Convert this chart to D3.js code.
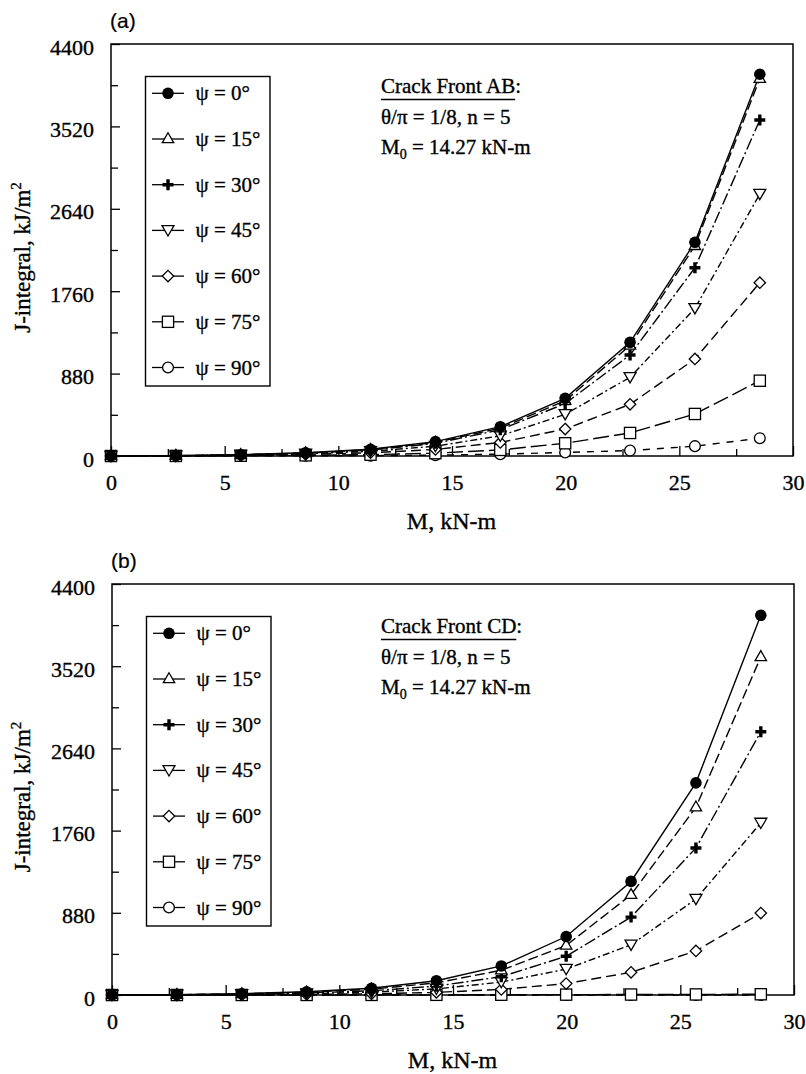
<!DOCTYPE html>
<html>
<head>
<meta charset="utf-8">
<script src="https://cdn.jsdelivr.net/npm/d3@7"></script>
<style>
  html, body { margin: 0; padding: 0; background: #fff; }
  svg { display: block; }
  text { fill: #000; }
  .serif { font-family: "Liberation Serif", "Times New Roman", Times, serif; stroke: #000; stroke-width: 0.35px; }
  .sans { font-family: "Liberation Sans", Arial, Helvetica, sans-serif; stroke: #000; stroke-width: 0.2px; }
</style>
</head>
<body>
<svg id="chart" width="806" height="1074"></svg>
<script>
// Applied bending moment M (kN-m): M/M0 = 0, 0.2, ..., 2.0 with M0 = 14.27 kN-m
const momentM = [0, 2.854, 5.708, 8.562, 11.416, 14.27, 17.124, 19.978, 22.832, 25.686, 28.54];

// Angular positions along the crack front
const psiAngles = [0, 15, 30, 45, 60, 75, 90];

// Axis ticks
const xTickValues = [0, 5, 10, 15, 20, 25, 30];
const xMinorTicks = [2.5, 7.5, 12.5, 17.5, 22.5, 27.5];
const yTickValues = [0, 880, 1760, 2640, 3520, 4400];
const yMinorTicks = [440, 1320, 2200, 3080, 3960];

// J-integral (kJ/m^2), crack front AB
const abPsi0  = [0, 4, 14, 35, 72, 153, 313, 616, 1214, 2282, 4077];
const abPsi15 = [0, 4, 13, 33, 68, 145, 298, 590, 1180, 2245, 4030];
const abPsi30 = [0, 3, 12, 30, 62, 135, 280, 560, 1079, 2011, 3589];
const abPsi45 = [0, 2.5, 10, 24, 50, 105, 215, 445, 840, 1577, 2798];
const abPsi60 = [0, 2, 7, 17, 35, 70, 145, 288, 552, 1036, 1851];
const abPsi75 = [0, 1, 3, 7, 14, 30, 65, 136, 246, 449, 804];
const abPsi90 = [0, 0.3, 1, 2, 4, 9, 20, 38, 58, 105, 190];

// J-integral (kJ/m^2), crack front CD
const cdPsi0  = [0, 4, 14, 35, 72, 153, 311, 626, 1216, 2271, 4065];
const cdPsi15 = [0, 3.5, 12, 30, 62, 130, 265, 530, 1073, 2010, 3620];
const cdPsi30 = [0, 2.5, 9, 22, 45, 95, 196, 415, 834, 1574, 2819];
const cdPsi45 = [0, 1.5, 6, 14, 30, 65, 138, 277, 537, 1027, 1842];
const cdPsi60 = [0, 0.6, 2.5, 6, 13, 28, 60, 122, 243, 472, 877];
const cdPsi75 = [0, 0, 0.3, 0.6, 1, 2, 3, 4, 5, 6, 8];
const cdPsi90 = [0, 0, 0, 0, 0, 0, 0, 0, 0, 0, 0];

// Per-series styling (same order as psiAngles)
const markerTypes = ["disc", "triUp", "plus", "triDown", "diamond", "square", "ring"];
const dashPatterns = [null, "10,4", "12,3,2,3", "7,3,2,3", "10,5", "16,5", "7,7"];

const panels = [
  { tag: "(a)", front: "AB", series: [abPsi0, abPsi15, abPsi30, abPsi45, abPsi60, abPsi75, abPsi90],
    left: 111, right: 793, top: 44, bottom: 456 },
  { tag: "(b)", front: "CD", series: [cdPsi0, cdPsi15, cdPsi30, cdPsi45, cdPsi60, cdPsi75, cdPsi90],
    left: 112, right: 794, top: 584, bottom: 995 }
];

const svg = d3.select("#chart");

function drawMarker(g, type, cx, cy) {
  const m = g.append("g").attr("transform", `translate(${cx},${cy})`);
  const open = { fill: "#fff", stroke: "#000", "stroke-width": 1.3 };
  const apply = (sel, attrs) => { Object.entries(attrs).forEach(([k, v]) => sel.attr(k, v)); return sel; };
  switch (type) {
    case "disc":
      m.append("circle").attr("r", 5.8).attr("fill", "#000");
      break;
    case "triUp":
      apply(m.append("path").attr("d", "M0,-6.2L5.7,3.7L-5.7,3.7Z"), open);
      break;
    case "triDown":
      apply(m.append("path").attr("d", "M0,5.6L6,-4.7L-6,-4.7Z"), open);
      break;
    case "diamond":
      apply(m.append("path").attr("d", "M0,-5.7L5.7,0L0,5.7L-5.7,0Z"), open);
      break;
    case "square":
      apply(m.append("rect").attr("x", -5.6).attr("y", -5.6).attr("width", 11.2).attr("height", 11.2), open);
      break;
    case "ring":
      apply(m.append("circle").attr("r", 5.4), open);
      break;
    case "plus":
      m.append("path").attr("d", "M-5.5,0H5.5M0,-5.5V5.5")
        .attr("stroke", "#000").attr("stroke-width", 3.4).attr("fill", "none");
      break;
  }
}

panels.forEach(p => {
  const x = d3.scaleLinear().domain([0, 30]).range([p.left, p.right]);
  const y = d3.scaleLinear().domain([0, 4400]).range([p.bottom, p.top]);
  const g = svg.append("g");

  // Minor ticks
  g.append("g").attr("transform", `translate(0,${p.bottom})`)
    .call(d3.axisBottom(x).tickValues(xMinorTicks).tickSize(-7).tickFormat(""))
    .call(a => a.select(".domain").remove());
  g.append("g").attr("transform", `translate(${p.left},0)`)
    .call(d3.axisLeft(y).tickValues(yMinorTicks).tickSize(-7).tickFormat(""))
    .call(a => a.select(".domain").remove());

  // Major ticks with labels
  const xa = g.append("g").attr("transform", `translate(0,${p.bottom})`)
    .call(d3.axisBottom(x).tickValues(xTickValues).tickSize(-10).tickPadding(18).tickFormat(d3.format("d")));
  xa.select(".domain").remove();
  xa.selectAll("text").attr("class", "serif").attr("font-size", 22);

  const ya = g.append("g").attr("transform", `translate(${p.left},0)`)
    .call(d3.axisLeft(y).tickValues(yTickValues).tickSize(-9).tickPadding(17).tickFormat(d3.format("d")));
  ya.select(".domain").remove();
  ya.selectAll("text").attr("class", "serif").attr("font-size", 22).attr("dy", "0.46em");

  g.selectAll(".tick line").attr("stroke", "#000").attr("stroke-width", 1.3);

  // Plot frame
  g.append("rect")
    .attr("x", p.left).attr("y", p.top)
    .attr("width", p.right - p.left).attr("height", p.bottom - p.top)
    .attr("fill", "none").attr("stroke", "#000").attr("stroke-width", 1.5);

  // Axis titles
  g.append("text").attr("class", "serif")
    .attr("x", (p.left + p.right) / 2 - 0.5).attr("y", p.bottom + 73)
    .attr("text-anchor", "middle").attr("font-size", 24)
    .text("M, kN-m");

  const yt = g.append("text").attr("class", "serif")
    .attr("transform", `translate(30,${(p.top + p.bottom) / 2 + 7.5}) rotate(-90)`)
    .attr("text-anchor", "middle").attr("font-size", 23);
  yt.append("tspan").text("J-integral, kJ/m");
  yt.append("tspan").attr("font-size", 15).attr("dy", -9).text("2");

  // Panel tag
  g.append("text").attr("class", "sans")
    .attr("x", p.left - 1).attr("y", p.top - 16)
    .attr("font-size", 21)
    .text(p.tag);

  // Series lines
  const line = d3.line().x((d, i) => x(momentM[i])).y(d => y(d));
  p.series.forEach((vals, s) => {
    g.append("path")
      .datum(vals)
      .attr("d", line)
      .attr("fill", "none")
      .attr("stroke", "#000")
      .attr("stroke-width", 1.4)
      .attr("stroke-dasharray", dashPatterns[s]);
  });

  // Series markers, drawn so that ψ = 0° sits on top
  const markerLayer = g.append("g");
  for (let s = p.series.length - 1; s >= 0; s--) {
    p.series[s].forEach((v, i) => drawMarker(markerLayer, markerTypes[s], x(momentM[i]), y(v)));
  }

  // Legend
  const lx = p.left + 34.5, ly = p.top + 32.5;
  const lg = g.append("g");
  lg.append("rect")
    .attr("x", lx).attr("y", ly).attr("width", 124.5).attr("height", 309.5)
    .attr("fill", "#fff").attr("stroke", "#000").attr("stroke-width", 1.4);
  psiAngles.forEach((a, s) => {
    const ey = p.top + 49.3 + s * 45.7;
    lg.append("line")
      .attr("x1", lx + 6.5).attr("x2", lx + 38.5).attr("y1", ey).attr("y2", ey)
      .attr("stroke", "#000").attr("stroke-width", 1.3);
    drawMarker(lg, markerTypes[s], lx + 22.5, ey);
    lg.append("text").attr("class", "serif")
      .attr("x", lx + 50).attr("y", ey + 7)
      .attr("font-size", 21)
      .text(`ψ = ${a}°`);
  });

  // Case annotation
  const ax = 381;
  const t1 = g.append("text").attr("class", "serif").attr("x", ax).attr("y", p.top + 49.3).attr("font-size", 21);
  const head = t1.append("tspan").text(`Crack Front ${p.front}`);
  t1.append("tspan").text(":");
  const w = head.node().getComputedTextLength();
  g.append("line")
    .attr("x1", ax).attr("x2", ax + w)
    .attr("y1", p.top + 55.5).attr("y2", p.top + 55.5)
    .attr("stroke", "#000").attr("stroke-width", 1.3);

  g.append("text").attr("class", "serif").attr("x", ax).attr("y", p.top + 79.5).attr("font-size", 21)
    .text("θ/π = 1/8, n = 5");

  const t3 = g.append("text").attr("class", "serif").attr("x", ax).attr("y", p.top + 109.5).attr("font-size", 21);
  t3.append("tspan").text("M");
  t3.append("tspan").attr("font-size", 14).attr("dy", 5).text("0");
  t3.append("tspan").attr("dy", -5).text(" = 14.27 kN-m");
});
</script>
</body>
</html>
